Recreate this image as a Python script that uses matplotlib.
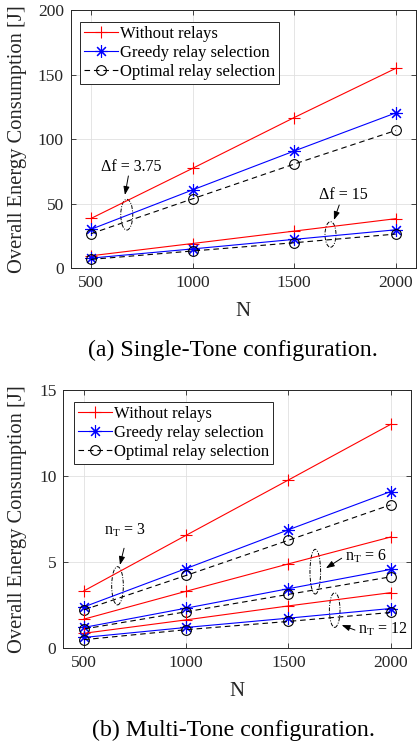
import matplotlib
matplotlib.use("Agg")
import matplotlib.pyplot as plt
from matplotlib.patches import Ellipse

plt.rcParams['font.family'] = ['Liberation Serif', 'DejaVu Serif']
plt.rcParams['mathtext.fontset'] = 'custom'
plt.rcParams['mathtext.rm'] = 'Liberation Serif'
plt.rcParams['mathtext.it'] = 'Liberation Serif:italic'

# ---------------- data ----------------
N = [500, 1000, 1500, 2000]
x_ticks = [500, 1000, 1500, 2000]

# (a) Single-tone
st_without_375 = [38.6, 77.4, 116.7, 154.8]
st_greedy_375 = [30.2, 60.7, 90.8, 120.3]
st_optimal_375 = [26.8, 53.8, 80.7, 106.7]
st_without_15 = [9.7, 19.2, 28.8, 38.4]
st_greedy_15 = [7.9, 15.0, 22.4, 29.8]
st_optimal_15 = [6.9, 13.4, 19.8, 26.5]
st_yticks = [0, 50, 100, 150, 200]

# (b) Multi-tone
mt_without_3 = [3.33, 6.56, 9.77, 13.0]
mt_greedy_3 = [2.40, 4.63, 6.88, 9.10]
mt_optimal_3 = [2.23, 4.23, 6.27, 8.33]
mt_without_6 = [1.69, 3.31, 4.90, 6.46]
mt_greedy_6 = [1.21, 2.33, 3.46, 4.58]
mt_optimal_6 = [1.12, 2.12, 3.13, 4.15]
mt_without_12 = [0.87, 1.65, 2.46, 3.23]
mt_greedy_12 = [0.63, 1.21, 1.75, 2.31]
mt_optimal_12 = [0.50, 1.08, 1.56, 2.08]
mt_yticks = [0, 5, 10, 15]

labels = ['Without relays', 'Greedy relay selection', 'Optimal relay selection']

# ---------------- styles ----------------
GRAY = (0.15, 0.15, 0.15)
LW = 0.8
sty_without = dict(color='red', marker='+', markersize=9, markeredgewidth=0.8, lw=LW)
sty_greedy = dict(color='blue', marker=(8, 2, 0), markersize=9, markeredgewidth=0.8, lw=LW)
sty_optimal = dict(color='black', marker='o', markersize=7, markerfacecolor='none',
                   markeredgewidth=0.8, lw=LW, linestyle=(0, (5, 3.5)))

W, H = 418, 745
fig = plt.figure(figsize=(W / 100, H / 100), dpi=100)
ax1 = fig.add_axes([70.7 / W, 1 - 268.3 / H, 345.3 / W, 258.3 / H])
ax2 = fig.add_axes([63.3 / W, 1 - 648.3 / H, 347.7 / W, 258.3 / H])


def style_axes(ax, yticks, ylim):
    ax.set_xlim(400, 2100)
    ax.set_ylim(*ylim)
    ax.set_xticks(x_ticks)
    ax.set_yticks(yticks)
    ax.grid(True, color=(0.88, 0.88, 0.88), lw=0.6)
    ax.set_axisbelow(True)
    for s in ax.spines.values():
        s.set_color(GRAY)
        s.set_linewidth(0.7)
    ax.tick_params(direction='in', length=3.5, width=0.6, colors=GRAY,
                   top=True, right=True, labelsize=12.5, pad=5)
    for t in ax.get_xticklabels() + ax.get_yticklabels():
        t.set_color(GRAY)


def draw_group(ax, w, g, o, with_label):
    l1, = ax.plot(N, w, **sty_without, label=labels[0] if with_label else None)
    l2, = ax.plot(N, g, **sty_greedy, label=labels[1] if with_label else None)
    l3, = ax.plot(N, o, **sty_optimal, label=labels[2] if with_label else None)
    return l1, l2, l3


def ellipse(ax, xy, w, h):
    ax.add_patch(Ellipse(xy, w, h, fill=False, edgecolor='black', lw=0.7,
                         linestyle=(0, (4, 1.5, 1, 1.5))))


def arrow(ax, tip, start):
    ax.annotate('', xy=tip, xytext=start,
                arrowprops=dict(arrowstyle='-|>,head_length=0.5,head_width=0.18',
                                color='black', lw=0.7, shrinkA=0, shrinkB=0))


# ---------------- (a) ----------------
style_axes(ax1, st_yticks, (0, 200))
draw_group(ax1, st_without_375, st_greedy_375, st_optimal_375, True)
draw_group(ax1, st_without_15, st_greedy_15, st_optimal_15, False)

ellipse(ax1, (676, 41.5), 59, 23.8)
arrow(ax1, (667, 56.8), (684, 71.5))
ax1.text(696, 75.6, 'Δf = 3.75', ha='center', va='baseline', fontsize=11.5, color='black')
ellipse(ax1, (1679, 26.2), 54, 19.8)
arrow(ax1, (1696, 37.4), (1722, 49))
ax1.text(1742, 53.4, 'Δf = 15', ha='center', va='baseline', fontsize=11.5, color='black')

# ---------------- (b) ----------------
style_axes(ax2, mt_yticks, (0, 15))
draw_group(ax2, mt_without_3, mt_greedy_3, mt_optimal_3, True)
draw_group(ax2, mt_without_6, mt_greedy_6, mt_optimal_6, False)
draw_group(ax2, mt_without_12, mt_greedy_12, mt_optimal_12, False)

ellipse(ax2, (665, 3.63), 57, 2.22)
arrow(ax2, (677, 4.84), (697, 5.81))
ax2.text(702, 6.58, r'n$_{\mathrm{T}}$ = 3', ha='center', va='baseline', fontsize=11.5)
ellipse(ax2, (1632, 4.45), 52, 2.6)
arrow(ax2, (1684, 4.65), (1761, 5.23))
ax2.text(1880, 5.09, r'n$_{\mathrm{T}}$ = 6', ha='center', va='baseline', fontsize=11.5)
ellipse(ax2, (1727, 2.22), 52, 2.01)
arrow(ax2, (1761, 1.35), (1826, 1.06))
ax2.text(1962, 0.87, r'n$_{\mathrm{T}}$ = 12', ha='center', va='baseline', fontsize=11.5)

# ---------------- labels, legends, captions ----------------
for ax, left, width, bottom_px, cap_px, cap in [
        (ax1, 70.7, 345.3, 268.3, 350, '(a) Single-Tone configuration.'),
        (ax2, 63.3, 347.7, 648.3, 730, '(b) Multi-Tone configuration.')]:
    ax.set_xlabel('N', fontsize=15, color=GRAY, va='center')
    ax.xaxis.set_label_coords(0.5, (bottom_px - (bottom_px + 43.4)) / 258.3)
    ax.set_ylabel('Overall Energy Consumption [J]', fontsize=14.8, color=GRAY, va='center')
    ax.yaxis.set_label_coords((18 - left) / width, 0.5)
    leg = ax.legend(loc='upper left', bbox_to_anchor=((80 - left) / width if ax is ax1 else (74 - left) / width,
                                                       0.955), borderaxespad=0,
                    fontsize=12, frameon=True, fancybox=False, edgecolor=GRAY,
                    framealpha=1, handlelength=2.0, handletextpad=0.15,
                    labelspacing=0.18, borderpad=0.25)
    leg.get_frame().set_linewidth(0.7)
    fig.text(233 / W, 1 - cap_px / H, cap, ha='center', va='center', fontsize=17.2, color='black')

fig.savefig('out.png', dpi=100)
